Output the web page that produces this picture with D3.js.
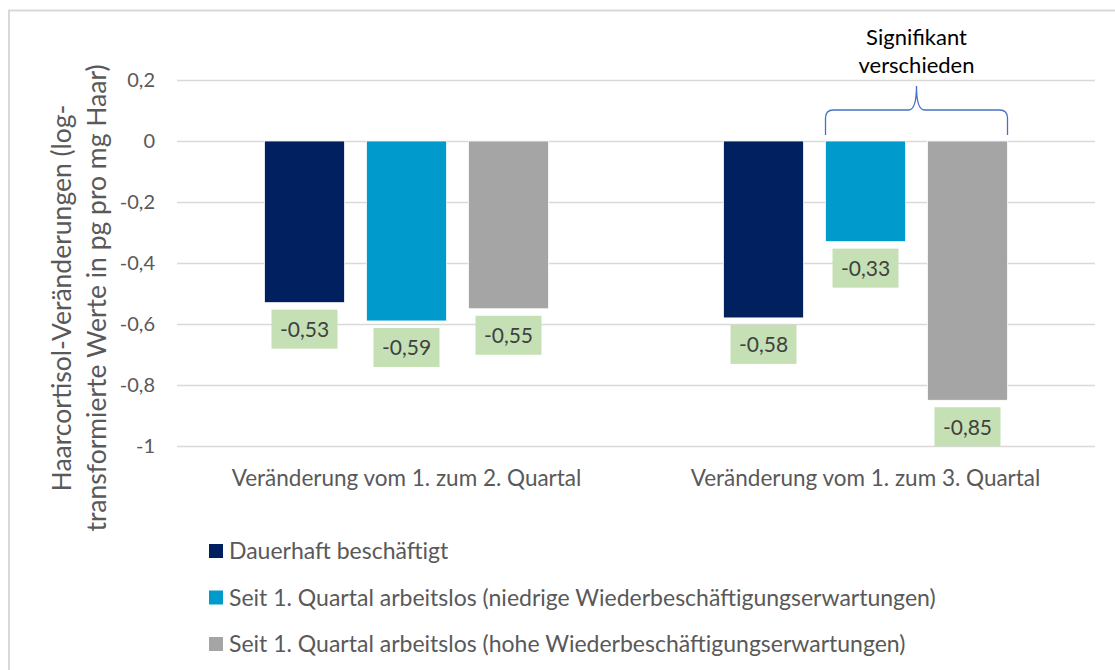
<!DOCTYPE html>
<html>
<head>
<meta charset="utf-8">
<script src="https://cdn.jsdelivr.net/npm/d3@7"></script>
<style>
  body { margin: 0; background: #fff; }
  text { font-family: "Source Sans Pro", Lato, "Open Sans", sans-serif; }
</style>
</head>
<body>
<div id="chart"></div>
<script>
// Data
const categories = ['Veränderung vom 1. zum 2. Quartal', 'Veränderung vom 1. zum 3. Quartal']
const series = [
  'Dauerhaft beschäftigt',
  'Seit 1. Quartal arbeitslos (niedrige Wiederbeschäftigungserwartungen)',
  'Seit 1. Quartal arbeitslos (hohe Wiederbeschäftigungserwartungen)'
]
const dauerhaft = [-0.53, -0.58]
const niedrig = [-0.59, -0.33]
const hoch = [-0.55, -0.85]
const yTicks = [0.2, 0, -0.2, -0.4, -0.6, -0.8, -1]
const colors = ['#002060', '#009ACD', '#A5A5A5']

const width = 1115,
  height = 670

const svg = d3.select('#chart')
  .append('svg')
  .attr('width', width)
  .attr('height', height)

// frame (cropped chart area)
svg.append('rect')
  .attr('x', 9)
  .attr('y', 10.5)
  .attr('width', width + 20)
  .attr('height', height + 20)
  .attr('fill', 'none')
  .attr('stroke', '#d9d9d9')
  .attr('stroke-width', 2)

const values = [dauerhaft, niedrig, hoch]
const data = categories.map((c, i) => ({
  cat: c,
  vals: series.map((s, j) => ({ s: s, j: j, v: values[j][i] }))
}))

const x0 = d3.scaleBand()
  .domain(categories)
  .range([177, 1095])

const x1 = d3.scaleBand()
  .domain(series)
  .range([0, x0.bandwidth()])
  .paddingInner(22 / 102)
  .paddingOuter(0.858)

const y = d3.scaleLinear()
  .domain([-1, 0.2])
  .range([446, 80])

// gridlines
svg.append('g')
  .selectAll('line')
  .data(yTicks)
  .enter()
  .append('line')
  .attr('x1', 177)
  .attr('x2', 1095)
  .attr('y1', d => Math.round(y(d)) + 0.5)
  .attr('y2', d => Math.round(y(d)) + 0.5)
  .attr('stroke', '#d9d9d9')
  .attr('stroke-width', 1.5)

// y axis labels
const fmt = d => String(d).replace('.', ',')
svg.append('g')
  .attr('transform', 'translate(155,0)')
  .call(d3.axisLeft(y).tickValues(yTicks).tickSize(0).tickFormat(fmt))
  .call(g => g.select('.domain').remove())
  .call(g => g.selectAll('text')
    .attr('x', 0)
    .attr('fill', '#595959')
    .style('font-size', '20px'))

// y axis title
const title = svg.append('text')
  .attr('transform', 'translate(82,298) rotate(-90)')
  .attr('text-anchor', 'middle')
  .attr('fill', '#595959')
  .style('font-size', '26.5px')
title.append('tspan').attr('x', 0).attr('dy', '-0.4em').text('Haarcortisol-Veränderungen (log-')
title.append('tspan').attr('x', 0).attr('dy', '1.3em').text('transformierte Werte in pg pro mg Haar)')

// bars
const groups = svg.selectAll('.grp')
  .data(data)
  .enter()
  .append('g')
  .attr('class', 'grp')
  .attr('transform', d => `translate(${x0(d.cat)},0)`)

groups.selectAll('rect')
  .data(d => d.vals)
  .enter()
  .append('rect')
  .attr('x', d => x1(d.s))
  .attr('y', d => y(Math.max(0, d.v)))
  .attr('width', x1.bandwidth())
  .attr('height', d => Math.abs(y(d.v) - y(0)))
  .attr('fill', d => colors[d.j])
  .attr('stroke', '#fff')
  .attr('stroke-width', 0.75)

// value labels
const lab = groups.selectAll('.lab')
  .data(d => d.vals)
  .enter()
  .append('g')
  .attr('class', 'lab')
  .attr('transform', d => `translate(${x1(d.s) + x1.bandwidth() / 2},${y(d.v) + 7})`)

lab.append('rect')
  .attr('x', -33)
  .attr('y', 0)
  .attr('width', 66)
  .attr('height', 39)
  .attr('fill', '#C5E0B4')

lab.append('text')
  .attr('y', 20)
  .attr('dy', '0.35em')
  .attr('text-anchor', 'middle')
  .attr('fill', '#404040')
  .style('font-size', '21px')
  .text(d => d.v.toFixed(2).replace('.', ','))

// category labels
svg.append('g')
  .selectAll('text')
  .data(categories)
  .enter()
  .append('text')
  .attr('x', d => x0(d) + x0.bandwidth() / 2)
  .attr('y', 478)
  .attr('dy', '0.35em')
  .attr('text-anchor', 'middle')
  .attr('fill', '#595959')
  .style('font-size', '22.5px')
  .text(d => d)

// bracket over significant bars
const bx1 = x0(categories[1]) + x1(series[1])
const bx2 = x0(categories[1]) + x1(series[2]) + x1.bandwidth()
const bm = (bx1 + bx2) / 2
const yb = y(0) - 6, yh = 110, yt = 86, r = 8
const path = d3.path()
path.moveTo(bx1, yb)
path.lineTo(bx1, yh + r)
path.quadraticCurveTo(bx1, yh, bx1 + r, yh)
path.lineTo(bm - r, yh)
path.quadraticCurveTo(bm, yh, bm, yt)
path.quadraticCurveTo(bm, yh, bm + r, yh)
path.lineTo(bx2 - r, yh)
path.quadraticCurveTo(bx2, yh, bx2, yh + r)
path.lineTo(bx2, yb)
svg.append('path')
  .attr('d', path.toString())
  .attr('fill', 'none')
  .attr('stroke', '#4472C4')
  .attr('stroke-width', 1.3)

svg.append('text')
  .attr('x', bm)
  .attr('y', 37)
  .attr('dy', '0.35em')
  .attr('text-anchor', 'middle')
  .attr('fill', '#000')
  .style('font-size', '22px')
  .text('Signifikant')
svg.append('text')
  .attr('x', bm)
  .attr('y', 65)
  .attr('dy', '0.35em')
  .attr('text-anchor', 'middle')
  .attr('fill', '#000')
  .style('font-size', '22px')
  .text('verschieden')

// legend
const leg = svg.append('g')
  .selectAll('g')
  .data(series)
  .enter()
  .append('g')
  .attr('transform', (d, i) => `translate(209,${551 + i * 46.5})`)

leg.append('rect')
  .attr('x', 0)
  .attr('y', -7)
  .attr('width', 14)
  .attr('height', 14)
  .attr('fill', (d, i) => colors[i])

leg.append('text')
  .attr('x', 20)
  .attr('dy', '0.35em')
  .attr('fill', '#595959')
  .style('font-size', '23px')
  .text(d => d)
</script>
</body>
</html>
